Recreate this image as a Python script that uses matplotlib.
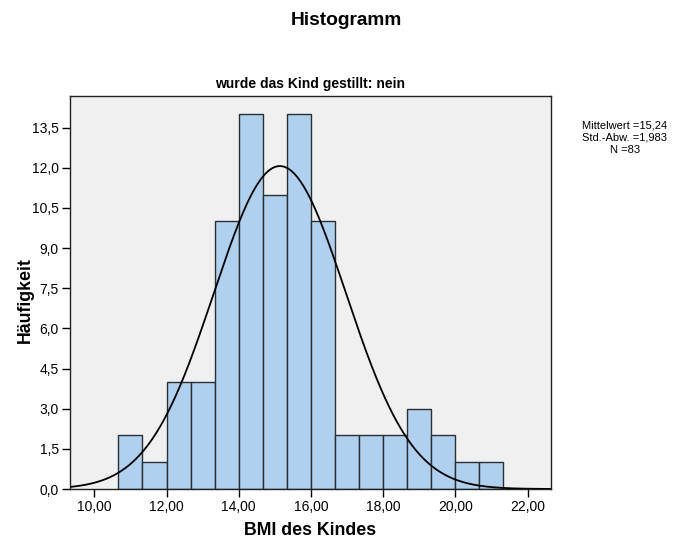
import numpy as np
import matplotlib
matplotlib.use("Agg")
import matplotlib.pyplot as plt
from matplotlib.ticker import FuncFormatter

plt.rcParams['font.family'] = ['Liberation Sans', 'DejaVu Sans']

# histogram bins (BMI) and counts
bin_edges = [10.667, 11.333, 12.0, 12.667, 13.333, 14.0, 14.667, 15.333, 16.0,
             16.667, 17.333, 18.0, 18.667, 19.333, 20.0, 20.667, 21.333]
counts = [2, 1, 4, 4, 10, 14, 11, 14, 10, 2, 2, 2, 3, 2, 1, 1]

# stats shown in the box
mean_txt = "15,24"
sd_txt = "1,983"
n_total = 83

# normal curve as drawn in the picture
curve_mean = 15.14
curve_sd = 1.83

xticks = [10, 12, 14, 16, 18, 20, 22]
yticks = [0.0, 1.5, 3.0, 4.5, 6.0, 7.5, 9.0, 10.5, 12.0, 13.5]


def main():
    fig = plt.figure(figsize=(6.92, 5.41), dpi=100)
    ax = fig.add_axes([0.1012, 0.0961, 0.695, 0.7265])
    ax.set_facecolor('#f0f0f0')

    lefts = bin_edges[:-1]
    widths = np.diff(bin_edges)
    ax.bar(lefts, counts, width=widths, align='edge', color='#afd0ee',
           edgecolor='#2b2f33', linewidth=1.0, zorder=2)

    x = np.linspace(9.3, 22.7, 500)
    bw = widths.mean()
    y = n_total * bw / (curve_sd * np.sqrt(2 * np.pi)) * np.exp(-0.5 * ((x - curve_mean) / curve_sd) ** 2)
    ax.plot(x, y, color='black', linewidth=1.3, zorder=3)

    ax.set_xlim(9.327, 22.65)
    ax.set_ylim(0, 14.68)
    ax.set_xticks(xticks)
    ax.set_yticks(yticks)
    ax.xaxis.set_major_formatter(FuncFormatter(lambda v, p: f"{v:.2f}".replace('.', ',')))
    ax.yaxis.set_major_formatter(FuncFormatter(lambda v, p: f"{v:.1f}".replace('.', ',')))
    ax.tick_params(direction='out', length=6, width=1, labelsize=10, colors='black', pad=2)
    for s in ax.spines.values():
        s.set_linewidth(1.0)
        s.set_color('#222222')

    ax.set_xlabel("BMI des Kindes", fontsize=12.8, fontweight='bold', labelpad=6)
    ax.set_ylabel("Häufigkeit", fontsize=12.8, fontweight='bold')
    ax.yaxis.set_label_coords(-0.075, 0.48)

    fig.text(0.5, 0.963, "Histogramm", ha='center', va='center', fontsize=13.8, fontweight='bold')
    fig.text(0.4487, 0.845, "wurde das Kind gestillt: nein", ha='center', va='center',
             fontsize=10, fontweight='bold')
    fig.text(0.903, 0.746, f"Mittelwert ={mean_txt}\nStd.-Abw. ={sd_txt}\nN ={n_total}",
             ha='center', va='center', fontsize=8, linespacing=1.3)

    fig.savefig("out.png", dpi=100)


if __name__ == "__main__":
    main()
